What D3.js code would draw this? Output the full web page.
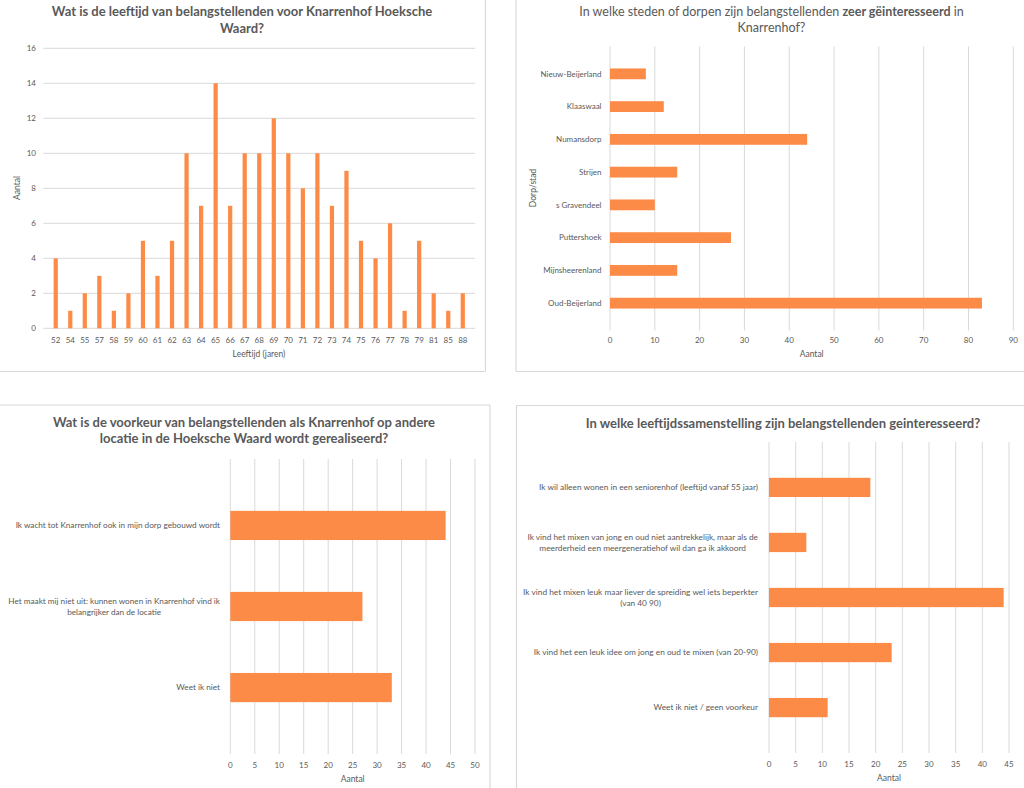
<!DOCTYPE html>
<html>
<head>
<meta charset="utf-8">
<script src="https://cdn.jsdelivr.net/npm/d3@7"></script>
<style>
  html, body { margin: 0; padding: 0; background: #fff; }
  svg { display: block; font-family: Lato, "Open Sans", sans-serif; }
</style>
</head>
<body>
<svg id="chart" width="1024" height="788"></svg>
<script>
// ── data ─────────────────────────────────────────────
var ageLabels = ["52","54","55","57","58","59","60","61","62","63","64","65","66","67","68",
  "69","70","71","72","73","74","75","76","77","78","79","81","85","88"];
var ageCounts = [4,1,2,3,1,2,5,3,5,10,7,14,7,10,10,12,10,8,10,7,9,5,4,6,1,5,2,1,2];

var towns = ["Nieuw-Beijerland","Klaaswaal","Numansdorp","Strijen","s Gravendeel",
  "Puttershoek","Mijnsheerenland","Oud-Beijerland"];
var townCounts = [8,12,44,15,10,27,15,83];

var locationChoices = [
  "Ik wacht tot Knarrenhof ook in mijn dorp gebouwd wordt",
  "Het maakt mij niet uit: kunnen wonen in Knarrenhof vind ik\nbelangrijker dan de locatie",
  "Weet ik niet"
];
var locationCounts = [44,27,33];

var mixChoices = [
  "Ik wil alleen wonen in een seniorenhof (leeftijd vanaf 55 jaar)",
  "Ik vind het mixen van jong en oud niet aantrekkelijk, maar als de\nmeerderheid een meergeneratiehof wil dan ga ik akkoord",
  "Ik vind het mixen leuk maar liever de spreiding wel iets beperkter\n(van 40 90)",
  "Ik vind het een leuk idee om jong en oud te mixen (van 20-90)",
  "Weet ik niet / geen voorkeur"
];
var mixCounts = [19,7,44,23,11];

var BAR = "#FD8B48";
var GRID = "#D9D9D9";
var TXT = "#595959";

var svg = d3.select("#chart");

// panel borders
function border(x1, y1, x2, y2) {
  svg.append("line")
    .attr("x1", x1).attr("y1", y1).attr("x2", x2).attr("y2", y2)
    .attr("stroke", GRID).attr("stroke-width", 1.2);
}
border(485.5, 0, 485.5, 371.5); border(0, 371.5, 485.5, 371.5);
border(516, 0, 516, 371.5); border(516, 371.5, 1024, 371.5);
border(0, 405, 490, 405); border(490, 405, 490, 788);
border(516.5, 405.5, 1024, 405.5); border(516.5, 405.5, 516.5, 788);

function title(lines, cx, y0, size) {
  var t = svg.append("text")
    .attr("text-anchor", "middle")
    .attr("fill", TXT)
    .attr("font-size", size || 13);
  lines.forEach(function (parts, i) {
    var line = t.append("tspan").attr("x", cx).attr("y", y0 + i * 16.5);
    parts.forEach(function (p) {
      line.append("tspan").attr("font-weight", p.bold ? "bold" : "normal").text(p.t);
    });
  });
}

// wrapped, right-aligned category label (lines centred on each other)
function catLabel(g, text, xRight, yMid, size) {
  var lines = text.split("\n");
  var lh = size * 1.3;
  var t = g.append("text")
    .attr("text-anchor", "middle")
    .attr("fill", TXT)
    .attr("font-size", size);
  var spans = lines.map(function (l, i) {
    return t.append("tspan")
      .attr("y", yMid - (lines.length - 1) * lh / 2 + i * lh)
      .attr("dy", "0.35em")
      .text(l);
  });
  var w = d3.max(spans, function (s) { return s.node().getComputedTextLength(); });
  spans.forEach(function (s) { s.attr("x", xRight - w / 2); });
}

// ── Vertical column chart (ages) ─────────────────────
(function () {
  var x = d3.scaleBand().domain(ageLabels).range([43.3, 475.2]).padding(0.71);
  var y = d3.scaleLinear().domain([0, 16]).range([328.3, 48.3]);
  var g = svg.append("g");

  g.selectAll(".grid").data(y.ticks(8)).join("line")
    .attr("x1", 43.3).attr("x2", 475.2)
    .attr("y1", function (d) { return y(d); }).attr("y2", function (d) { return y(d); })
    .attr("stroke", GRID);

  g.selectAll(".ylab").data(y.ticks(8)).join("text")
    .attr("x", 36).attr("y", function (d) { return y(d); }).attr("dy", "0.35em")
    .attr("text-anchor", "end").attr("font-size", 8).attr("fill", TXT)
    .text(function (d) { return d; });

  g.selectAll("rect").data(ageCounts).join("rect")
    .attr("x", function (d, i) { return x(ageLabels[i]); })
    .attr("width", x.bandwidth())
    .attr("y", function (d) { return y(d); })
    .attr("height", function (d) { return y(0) - y(d); })
    .attr("fill", BAR);

  g.selectAll(".xlab").data(ageLabels).join("text")
    .attr("x", function (d) { return x(d) + x.bandwidth() / 2; })
    .attr("y", 340).attr("dy", "0.35em")
    .attr("text-anchor", "middle").attr("font-size", 8).attr("fill", TXT)
    .text(function (d) { return d; });

  g.append("text").attr("x", 259).attr("y", 354).attr("dy", "0.35em")
    .attr("text-anchor", "middle").attr("font-size", 8.5).attr("fill", TXT)
    .text("Leeftijd (jaren)");
  g.append("text").attr("transform", "translate(17,188) rotate(-90)").attr("dy", "0.35em")
    .attr("text-anchor", "middle").attr("font-size", 8.5).attr("fill", TXT)
    .text("Aantal");

  title([[{ t: "Wat is de leeftijd van belangstellenden voor Knarrenhof Hoeksche", bold: true }],
         [{ t: "Waard?", bold: true }]], 242, 16);
})();

// ── Horizontal bar charts ───────────────────────────
function hbar(opt) {
  var g = svg.append("g");
  var x = d3.scaleLinear().domain([0, opt.max]).range([opt.x0, opt.x1]);
  var y = d3.scaleBand().domain(opt.cats).range([opt.y0, opt.y1]).padding(opt.pad);
  var ticks = d3.range(0, opt.max + 1, opt.step);

  g.selectAll(".grid").data(ticks).join("line")
    .attr("x1", function (d) { return x(d); }).attr("x2", function (d) { return x(d); })
    .attr("y1", opt.y0).attr("y2", opt.y1)
    .attr("stroke", GRID);

  g.selectAll(".xlab").data(ticks).join("text")
    .attr("x", function (d) { return x(d); }).attr("y", opt.tickY).attr("dy", "0.35em")
    .attr("text-anchor", "middle").attr("font-size", 8).attr("fill", TXT)
    .text(function (d) { return d; });

  g.selectAll("rect").data(opt.values).join("rect")
    .attr("x", x(0))
    .attr("y", function (d, i) { return y(opt.cats[i]); })
    .attr("width", function (d) { return x(d) - x(0); })
    .attr("height", y.bandwidth())
    .attr("fill", BAR);

  opt.cats.forEach(function (c) {
    catLabel(g, c, opt.labelX, y(c) + y.bandwidth() / 2, opt.labelSize);
  });

  g.append("text").attr("x", (opt.x0 + opt.x1) / 2).attr("y", opt.tickY + 14).attr("dy", "0.35em")
    .attr("text-anchor", "middle").attr("font-size", 8.5).attr("fill", TXT)
    .text("Aantal");
  return g;
}

var g2 = hbar({ cats: towns, values: townCounts, max: 90, step: 10,
  x0: 610, x1: 1013.3, y0: 46.5, y1: 330.5, pad: 0.67, tickY: 340.5, labelX: 601.5, labelSize: 8 });
g2.append("text").attr("transform", "translate(533,188) rotate(-90)").attr("dy", "0.35em")
  .attr("text-anchor", "middle").attr("font-size", 8.5).attr("fill", TXT)
  .text("Dorp/stad");
title([[{ t: "In welke steden of dorpen zijn belangstellenden " }, { t: "zeer gëinteresseerd", bold: true }, { t: " in" }],
       [{ t: "Knarrenhof?" }]], 771.5, 15.5, 12.5);

hbar({ cats: locationChoices, values: locationCounts, max: 50, step: 5,
  x0: 230.3, x1: 475, y0: 459, y1: 754, pad: 0.64, tickY: 765, labelX: 220, labelSize: 8.2 });
title([[{ t: "Wat is de voorkeur van belangstellenden als Knarrenhof op andere", bold: true }],
       [{ t: "locatie in de Hoeksche Waard wordt gerealiseerd?", bold: true }]], 244, 426.5);

hbar({ cats: mixChoices, values: mixCounts, max: 45, step: 5,
  x0: 769, x1: 1009, y0: 442, y1: 753, pad: 0.65, tickY: 764, labelX: 758, labelSize: 8.3 });
title([[{ t: "In welke leeftijdssamenstelling zijn belangstellenden geinteresseerd?", bold: true }]], 783, 427.5);
</script>
</body>
</html>
